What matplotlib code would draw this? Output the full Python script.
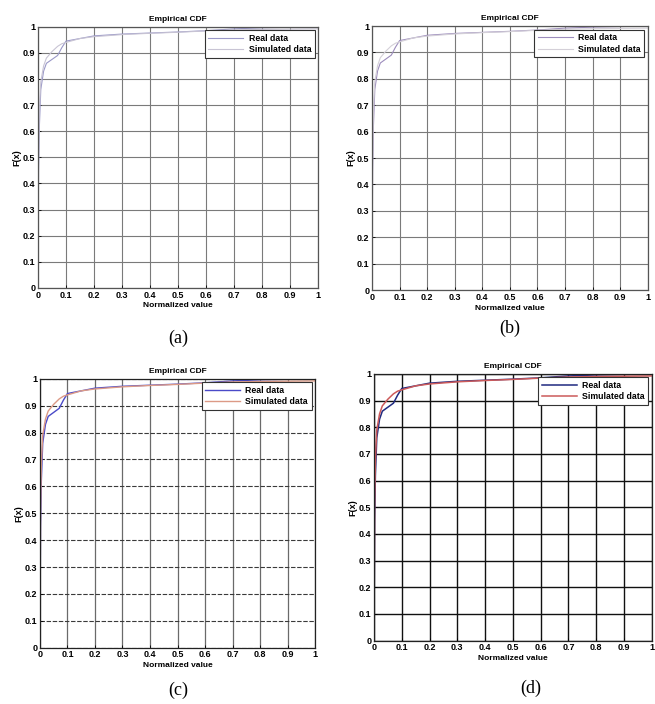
import matplotlib.pyplot as plt
import numpy as np

# Valores (CDF empírica)
x_vals = [0, 0.002, 0.005, 0.01, 0.02, 0.03, 0.05, 0.07, 0.085, 0.1, 0.15, 0.2,
          0.3, 0.4, 0.5, 0.6, 0.7, 0.8, 0.9, 1.0]
real_cdf = [0, 0.45, 0.62, 0.76, 0.83, 0.86, 0.875, 0.89, 0.92, 0.945, 0.955, 0.965,
            0.972, 0.976, 0.98, 0.985, 0.992, 0.996, 0.998, 1.0]
sim_cdf = [0, 0.5, 0.68, 0.79, 0.85, 0.88, 0.905, 0.925, 0.935, 0.94, 0.955, 0.962,
           0.97, 0.975, 0.979, 0.984, 0.988, 0.99, 0.991, 0.992]

ticks = [0, 0.1, 0.2, 0.3, 0.4, 0.5, 0.6, 0.7, 0.8, 0.9, 1]
tick_labels = ['0', '0.1', '0.2', '0.3', '0.4', '0.5', '0.6', '0.7', '0.8', '0.9', '1']
captions = ['(a)', '(b)', '(c)', '(d)']

plt.rcParams['font.family'] = ['Liberation Sans', 'DejaVu Sans']

fig = plt.figure(figsize=(6.55, 7.04), dpi=100)

# posição de cada painel [left, bottom, width, height]
positions = [
    [0.058, 0.591, 0.428, 0.371],
    [0.568, 0.588, 0.421, 0.375],
    [0.061, 0.080, 0.420, 0.382],
    [0.571, 0.090, 0.424, 0.379],
]
real_colors = ['#9a98c8', '#9c8cbc', '#4a4ac8', '#1f2a80']
sim_colors = ['#c8c4d4', '#d4d0d8', '#dc9a86', '#cc5a5a']
line_w = [0.8, 0.8, 1.0, 1.1]
caption_xy = [(0.272, 0.507), (0.778, 0.522), (0.272, 0.007), (0.810, 0.010)]

for i in range(4):
    ax = fig.add_axes(positions[i])
    ax.plot(x_vals, real_cdf, color=real_colors[i], lw=line_w[i], label='Real data')
    ax.plot(x_vals, sim_cdf, color=sim_colors[i], lw=line_w[i], label='Simulated data')
    ax.set_xlim(0, 1)
    ax.set_ylim(0, 1)
    ax.set_xticks(ticks)
    ax.set_xticklabels(tick_labels)
    ax.set_yticks(ticks)
    ax.set_yticklabels(tick_labels)
    ax.tick_params(direction='in', length=2, width=0.6, labelsize=6.5, pad=2)
    for lab in ax.get_xticklabels() + ax.get_yticklabels():
        lab.set_fontweight('bold')

    # estilo da grade muda de painel para painel
    if i < 2:
        ax.grid(True, color='#7a7a7a', lw=0.8)
    elif i == 2:
        ax.xaxis.grid(True, color='#6a6a6a', lw=0.9)
        ax.yaxis.grid(True, color='#3a3a3a', lw=0.8, ls=(0, (4, 1.5)))
    else:
        ax.grid(True, color='#111111', lw=1.0)
    ax.set_axisbelow(True)
    for sp in ax.spines.values():
        sp.set_linewidth(0.9)
        sp.set_color('#555555' if i < 2 else '#222222')

    ax.set_title('Empirical CDF', fontsize=6, fontweight='bold', pad=4)
    ax.set_xlabel('Normalized value', fontsize=6, fontweight='bold', labelpad=2)
    ax.set_ylabel('F(x)', fontsize=6.5, fontweight='bold', labelpad=1)

    leg = ax.legend(loc='upper right', prop={'weight': 'bold', 'size': 6.3},
                    handlelength=4.0, frameon=True, fancybox=False, borderaxespad=0.4,
                    borderpad=0.4, labelspacing=0.3, handletextpad=0.6)
    leg.get_frame().set_edgecolor('#333333')
    leg.get_frame().set_linewidth(0.8)
    leg.get_frame().set_alpha(1)

    fig.text(caption_xy[i][0], caption_xy[i][1], captions[i], ha='center', va='bottom',
             fontsize=13, family=['Liberation Serif', 'DejaVu Serif'])

plt.savefig('out.png', dpi=100)
